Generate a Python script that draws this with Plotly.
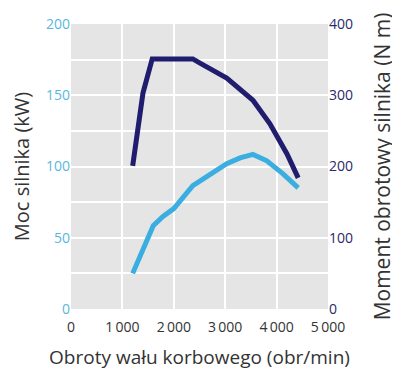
import plotly.graph_objects as go

rpm_power = [1200, 1600, 1790, 2000, 2370, 2770, 3030, 3290, 3540, 3810, 4120, 4420]
power_kw = [25, 58.5, 65, 70.5, 86.5, 96, 102, 106, 108.5, 104, 95, 85]

rpm_torque = [1200, 1400, 1580, 2370, 2510, 2840, 3030, 3540, 3870, 4200, 4420]
torque_nm = [201, 303, 351, 351, 345, 331, 324, 293, 260, 218, 184]

x_ticks = [0, 1000, 2000, 3000, 4000, 5000]
x_labels = ["0", "1\u2009000", "2\u2009000", "3\u2009000", "4\u2009000", "5\u2009000"]
y1_ticks = [0, 25, 50, 75, 100, 125, 150, 175, 200]
y1_labels = ["0", "", "50", "", "100", "", "150", "", "200"]
y2_ticks = [0, 100, 200, 300, 400]
y2_labels = ["0", "100", "200", "300", "400"]

NAVY = "#211d6e"
LIGHT = "#3aaee0"
TXT = "#333333"

fig = go.Figure()
fig.add_trace(go.Scatter(x=rpm_power, y=power_kw, mode="lines",
                         line=dict(color=LIGHT, width=5), yaxis="y"))
fig.add_trace(go.Scatter(x=rpm_torque, y=torque_nm, mode="lines",
                         line=dict(color=NAVY, width=5), yaxis="y2"))

fig.update_layout(
    width=400, height=379,
    margin=dict(l=63, r=80, t=16, b=78),
    paper_bgcolor="white", plot_bgcolor="#e5e5e5",
    showlegend=False,
    font=dict(family="Open Sans", color=TXT),
    xaxis=dict(range=[0, 5000], tickvals=x_ticks, ticktext=x_labels,
               showgrid=True, gridcolor="white", gridwidth=2, zeroline=False,
               showline=False, ticks="", tickfont=dict(size=14, color=TXT),
               ticklabelstandoff=8,
               title=dict(text="Obroty wału korbowego (obr/min)",
                          font=dict(size=19, color=TXT), standoff=15),
               automargin=False),
    yaxis=dict(range=[0, 200], tickvals=y1_ticks, ticktext=y1_labels,
               showgrid=True, gridcolor="white", gridwidth=2, zeroline=False,
               showline=False, ticks="", tickfont=dict(size=14, color="#5ab6de"),
               title=dict(text="Moc silnika (kW)", font=dict(size=20, color=TXT), standoff=20),
               automargin=False),
    yaxis2=dict(range=[0, 400], tickvals=y2_ticks, ticktext=y2_labels,
                overlaying="y", side="right", showgrid=False, zeroline=False,
                showline=False, ticks="", tickfont=dict(size=14, color="#2a2a6a"),
                title=dict(text="Moment obrotowy silnika (N m)", font=dict(size=21, color=TXT), standoff=23),
                automargin=False),
)

fig.write_html("out.html")
